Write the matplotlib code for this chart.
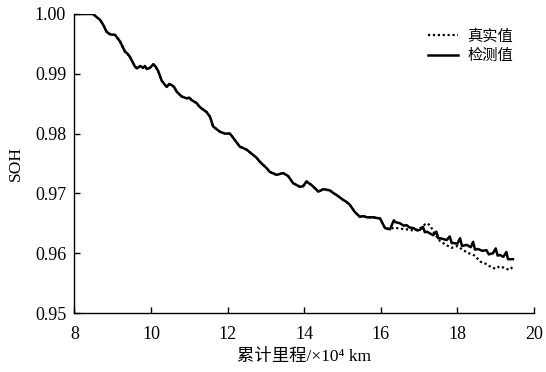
import matplotlib
matplotlib.use("Agg")
import matplotlib.pyplot as plt

# Cumulative mileage (x10^4 km) and SOH readings
mileage = [8.00, 8.48, 8.67, 8.75, 8.84, 8.93, 9.06, 9.12, 9.19, 9.32, 9.38, 9.45, 9.58,
           9.63, 9.72, 9.79, 9.84, 9.89, 9.97, 10.06, 10.12, 10.19, 10.28, 10.41, 10.48,
           10.54, 10.60, 10.67, 10.80, 10.93, 11.00, 11.06, 11.19, 11.25, 11.32, 11.45,
           11.54, 11.62, 11.80, 11.93, 12.06, 12.12, 12.19, 12.32, 12.40, 12.50, 12.67,
           12.75, 12.84, 13.02, 13.10, 13.28, 13.45, 13.58, 13.71, 13.89, 13.97, 14.06,
           14.12, 14.19, 14.37, 14.50, 14.67, 14.75, 14.85, 15.02, 15.10, 15.19, 15.32,
           15.45, 15.55, 15.63, 15.80, 15.98, 16.11, 16.24]
soh_est = [1.0000, 1.0000, 0.9990, 0.9982, 0.9970, 0.9966, 0.9965, 0.9960, 0.9954, 0.9937,
           0.9934, 0.9928, 0.9912, 0.9909, 0.9913, 0.9910, 0.9913, 0.9908, 0.9910, 0.9916,
           0.9912, 0.9904, 0.9888, 0.9878, 0.9883, 0.9881, 0.9878, 0.9870, 0.9862, 0.9859,
           0.9860, 0.9856, 0.9851, 0.9846, 0.9842, 0.9836, 0.9828, 0.9812, 0.9803, 0.9800,
           0.9800, 0.9795, 0.9789, 0.9778, 0.9776, 0.9773, 0.9764, 0.9760, 0.9753, 0.9742,
           0.9736, 0.9731, 0.9734, 0.9729, 0.9717, 0.9711, 0.9712, 0.9720, 0.9717, 0.9714,
           0.9703, 0.9707, 0.9705, 0.9701, 0.9697, 0.9689, 0.9686, 0.9681, 0.9669, 0.9661,
           0.9662, 0.9660, 0.9660, 0.9658, 0.9642, 0.9640]

# Tail segments where the two series separate
tail_x_est = [16.34, 16.38, 16.50, 16.60, 16.67, 16.75, 16.85, 16.95, 17.02, 17.10,
              17.15, 17.20, 17.37, 17.45, 17.50, 17.55, 17.72, 17.80, 17.85, 17.89,
              18.00, 18.07, 18.12, 18.24, 18.35, 18.41, 18.46, 18.54, 18.65, 18.76,
              18.82, 18.93, 19.00, 19.05, 19.11, 19.20, 19.28, 19.32, 19.45]
tail_est = [0.9655, 0.9652, 0.9650, 0.9646, 0.9647, 0.9643, 0.9642, 0.9638, 0.9639, 0.9644,
            0.9635, 0.9636, 0.9630, 0.9636, 0.9625, 0.9625, 0.9622, 0.9628, 0.9617, 0.9617,
            0.9616, 0.9625, 0.9612, 0.9614, 0.9610, 0.9619, 0.9606, 0.9607, 0.9604, 0.9605,
            0.9598, 0.9600, 0.9608, 0.9596, 0.9597, 0.9594, 0.9602, 0.9590, 0.9590]

tail_x_true = [16.34, 16.50, 16.67, 16.85, 17.00, 17.15, 17.22, 17.30, 17.40, 17.55,
               17.70, 17.85, 18.00, 18.15, 18.30, 18.45, 18.60, 18.75, 18.90, 19.00,
               19.10, 19.25, 19.35, 19.45]
tail_true = [0.9643, 0.9641, 0.9640, 0.9638, 0.9640, 0.9648, 0.9650, 0.9645, 0.9633, 0.9620,
             0.9614, 0.9609, 0.9612, 0.9605, 0.9600, 0.9596, 0.9586, 0.9582, 0.9576, 0.9574,
             0.9578, 0.9575, 0.9572, 0.9577]

x_est = mileage + tail_x_est
y_est = soh_est + tail_est
x_true = mileage + tail_x_true
y_true = soh_est + tail_true

serif = ["Liberation Serif", "Noto Sans CJK SC", "DejaVu Serif"]
cjk = ["Noto Sans CJK SC", "Liberation Serif", "DejaVu Sans"]

fig = plt.figure(figsize=(5.46, 3.72), dpi=100)
ax = fig.add_axes([0.1364, 0.1586, 0.8416, 0.8038])

ax.plot(x_true, y_true, color="black", linestyle=(0, (1, 1.2)), linewidth=1.6,
        label="真实值")
ax.plot(x_est, y_est, color="black", linestyle="-", linewidth=1.8,
        label="检测值")

ax.set_xlim(8, 20)
ax.set_ylim(0.95, 1.00)
ax.set_xticks(range(8, 21, 2))
ax.set_yticks([0.95, 0.96, 0.97, 0.98, 0.99, 1.00])
ax.set_yticklabels([f"{v:.2f}" for v in ax.get_yticks()])

for side in ("top", "right"):
    ax.spines[side].set_visible(False)
for side in ("left", "bottom"):
    ax.spines[side].set_linewidth(1.0)
ax.tick_params(direction="in", length=4, width=1.0, labelsize=13)
ax.tick_params(axis="x", pad=9)
ax.tick_params(axis="y", pad=6)
for lbl in ax.get_xticklabels() + ax.get_yticklabels():
    lbl.set_family(serif)

ax.set_ylabel("SOH", family=serif, fontsize=12.5, labelpad=8)
ax.set_xlabel("累计里程/×10⁴ km", family=serif, fontsize=12.5, labelpad=5)

ax.legend(loc="upper right", bbox_to_anchor=(0.985, 1.0), frameon=False,
          handlelength=2.0, handletextpad=0.6, labelspacing=0.15,
          prop={"family": cjk, "size": 11})

fig.savefig("out.png", dpi=100)
